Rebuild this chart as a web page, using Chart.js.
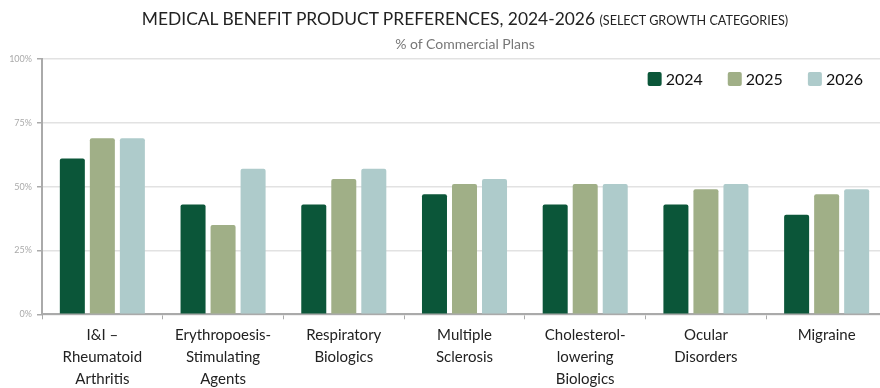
<!DOCTYPE html>
<html>
  <head>
    <title>Medical Benefit Product Preferences</title>
    <script src="https://cdn.jsdelivr.net/npm/chart.js"></script>
    <style>
      body {
        margin: 0;
        overflow: hidden;
        background: #fff;
        font-family: Lato, sans-serif;
      }

      .wrap {
        position: relative;
        width: 890px;
        height: 395px;
      }

      .title {
        position: absolute;
        top: 8px;
        left: 0;
        width: 930px;
        text-align: center;
        font-size: 17.4px;
        color: #222;
        white-space: nowrap;
      }

      .title small {
        font-size: 12.6px;
      }

      .subtitle {
        position: absolute;
        top: 35px;
        left: 0;
        width: 930px;
        text-align: center;
        font-size: 14px;
        color: #777;
      }

      canvas {
        position: absolute;
        top: 0;
        left: 0;
      }
    </style>
  </head>
  <body>
    <div class="wrap">
      <canvas id="barChart" width="890" height="395"></canvas>
      <div class="title">
        MEDICAL BENEFIT PRODUCT PREFERENCES, 2024-2026
        <small>(SELECT GROWTH CATEGORIES)</small>
      </div>
      <div class="subtitle">% of Commercial Plans</div>
    </div>
    <script>
      const categories = [
        ["I&I \u2013", "Rheumatoid", "Arthritis"],
        ["Erythropoesis-", "Stimulating", "Agents"],
        ["Respiratory", "Biologics"],
        ["Multiple", "Sclerosis"],
        ["Cholesterol-", "lowering", "Biologics"],
        ["Ocular", "Disorders"],
        ["Migraine"],
      ];
      const years = ["2024", "2025", "2026"];
      const values2024 = [61, 43, 43, 47, 43, 43, 39];
      const values2025 = [69, 35, 53, 51, 51, 49, 47];
      const values2026 = [69, 57, 57, 53, 51, 51, 49];
      const yTicks = [0, 25, 50, 75, 100];

      const colors = ["#0b5639", "#a0af87", "#aecbcb"];

      // legend drawn inside the plot, top right
      const legendInside = {
        id: "legendInside",
        afterDraw(chart) {
          const ctx = chart.ctx;
          const area = chart.chartArea;
          ctx.save();
          ctx.font = "16px Lato, sans-serif";
          ctx.textBaseline = "middle";
          const items = chart.data.datasets.map(function (ds) {
            return { label: ds.label, color: ds.backgroundColor, w: ctx.measureText(ds.label).width };
          });
          let total = 0;
          items.forEach(function (it, i) {
            total += 14 + 4 + it.w + (i < items.length - 1 ? 25 : 0);
          });
          let x = area.right - 24 - total;
          const y = 79;
          items.forEach(function (it) {
            ctx.fillStyle = it.color;
            ctx.beginPath();
            ctx.roundRect(x, y - 7, 14, 14, 2);
            ctx.fill();
            ctx.fillStyle = "#111";
            ctx.fillText(it.label, x + 18, y + 1);
            x += 14 + 4 + it.w + 25;
          });
          ctx.restore();
        },
      };

      const data = {
        labels: categories,
        datasets: [values2024, values2025, values2026].map(function (vals, i) {
          return {
            label: years[i],
            data: vals,
            backgroundColor: colors[i],
            borderRadius: { topLeft: 2, topRight: 2 },
            borderSkipped: "bottom",
            categoryPercentage: 0.746,
            barPercentage: 0.833,
          };
        }),
      };

      const config = {
        type: "bar",
        data: data,
        plugins: [legendInside],
        options: {
          responsive: false,
          animation: false,
          layout: {
            padding: { top: 59, right: 3, left: 0, bottom: 0 },
          },
          plugins: {
            legend: { display: false },
            tooltip: { enabled: false },
          },
          scales: {
            x: {
              grid: {
                offset: true,
                drawOnChartArea: false,
                drawTicks: true,
                tickLength: 5,
                color: "#aaa",
              },
              border: { color: "#aaa", width: 2 },
              ticks: {
                color: "#222",
                padding: 5,
                font: { family: "Lato, sans-serif", size: 15, lineHeight: 1.46 },
                maxRotation: 0,
                autoSkip: false,
              },
            },
            y: {
              min: 0,
              max: 100,
              afterBuildTicks(scale) {
                scale.ticks = yTicks.map(function (v) {
                  return { value: v };
                });
              },
              afterFit(scale) {
                scale.width = 42;
              },
              grid: {
                color: "#e2e2e2",
                lineWidth: 1.5,
                tickLength: 5,
                tickColor: "#aaa",
              },
              border: { color: "#aaa", width: 2 },
              ticks: {
                color: "#aaa",
                padding: 5,
                font: { family: "Lato, sans-serif", size: 9 },
                callback: function (v) {
                  return v + "%";
                },
              },
            },
          },
        },
      };

      new Chart(document.getElementById("barChart"), config);
    </script>
  </body>
</html>
